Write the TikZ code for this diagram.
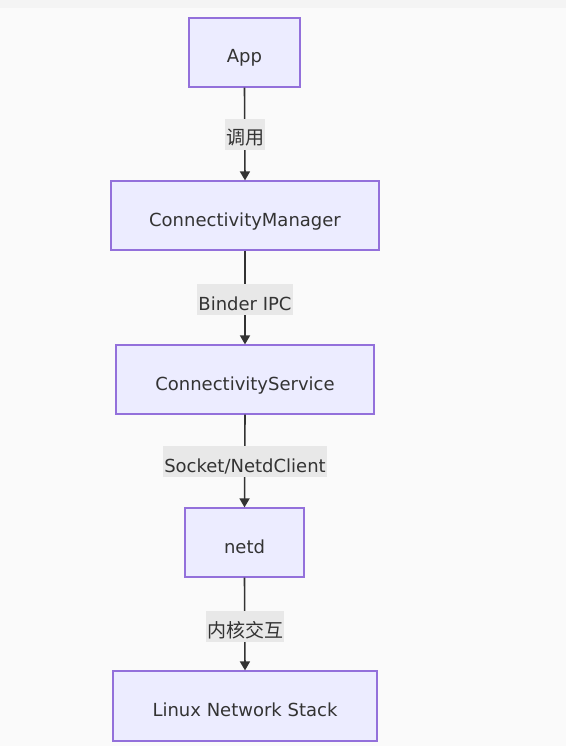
\documentclass[tikz,border=0pt]{standalone}
\usepackage{fontspec}
\setmainfont{DejaVu Sans}
\newfontfamily\cjk{Noto Sans CJK SC}
\usetikzlibrary{arrows.meta}
\definecolor{nodefill}{HTML}{ECECFF}
\definecolor{nodeline}{HTML}{9370DB}
\definecolor{edgecol}{HTML}{333333}
\definecolor{lblbg}{HTML}{E8E8E8}
\definecolor{pagebg}{HTML}{FAFAFA}
\definecolor{topbg}{HTML}{F4F4F4}
\begin{document}
\begin{tikzpicture}[x=1pt,y=-1pt,
  box/.style={draw=nodeline,fill=nodefill,line width=1.2pt,rectangle,inner sep=0pt,font=\fontsize{18}{20}\selectfont,text=edgecol,text height=21pt,text depth=0pt},
  lbl/.style={fill=lblbg,inner xsep=1pt,inner ysep=0pt,minimum height=31pt,font=\fontsize{18}{20}\selectfont,text=edgecol,text height=21pt,text depth=0pt},
  conn/.style={draw=edgecol,line width=1.6pt,-{Triangle[length=9pt,width=10pt]}}]
\useasboundingbox (0,0) rectangle (566,746);
\fill[pagebg] (0,0) rectangle (566,746);
\fill[topbg] (0,0) rectangle (566,8);
\node[box,minimum width=111pt,minimum height=69pt] (app) at (244.5,52.5) {App};
\node[box,minimum width=268pt,minimum height=69pt] (cm) at (245,215.5) {ConnectivityManager};
\node[box,minimum width=258pt,minimum height=69pt] (cs) at (245,379.5) {ConnectivityService};
\node[box,minimum width=119pt,minimum height=69pt] (netd) at (244.5,542.5) {netd};
\node[box,minimum width=264pt,minimum height=70pt] (lns) at (245,706) {Linux Network Stack};
\draw[conn] (app.south) -- (cm.north);
\draw[conn] (cm.south) -- (cs.north);
\draw[conn] (cs.south) -- (netd.north);
\draw[conn] (netd.south) -- (lns.north);
\node[lbl] (l1) at (245,134.5) {\cjk\fontsize{19}{20}\selectfont 调用};
\node[lbl] (l2) at (245,299.5) {Binder IPC};
\node[lbl] (l3) at (245,461.5) {Socket/NetdClient};
\node[lbl] (l4) at (245,626.5) {\cjk\fontsize{19}{20}\selectfont 内核交互};
\end{tikzpicture}
\end{document}
